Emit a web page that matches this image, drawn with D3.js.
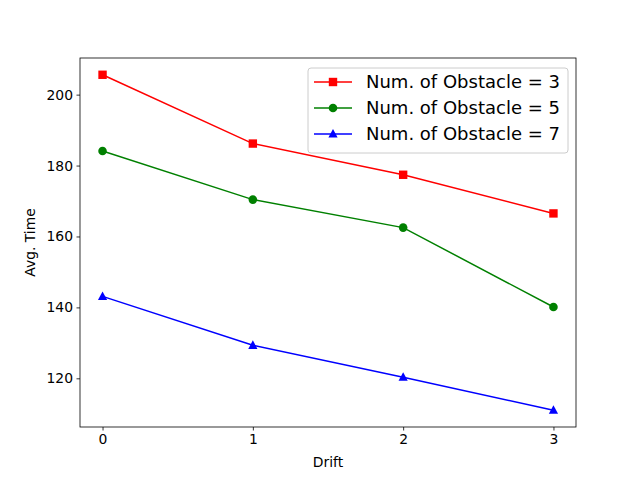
<!DOCTYPE html>
<html>
<head>
<meta charset="utf-8">
<script src="https://cdn.jsdelivr.net/npm/d3@7"></script>
<style>
  body { margin: 0; background: #fff; }
  svg { display: block; font-family: "DejaVu Sans", sans-serif; }
</style>
</head>
<body>
<div id="chart"></div>
<script>
(function() {
    'use strict';

    // Data
    var drift = [0, 1, 2, 3];
    var obstacle3 = [205.6, 186.2, 177.4, 166.5];
    var obstacle5 = [184.1, 170.4, 162.5, 140.1];
    var obstacle7 = [143.1, 129.3, 120.3, 111.0];
    var xTicks = [0, 1, 2, 3];
    var yTicks = [120, 140, 160, 180, 200];

    var series = [
        { label: 'Num. of Obstacle = 3', values: obstacle3, color: '#ff0000', marker: 'square' },
        { label: 'Num. of Obstacle = 5', values: obstacle5, color: '#008000', marker: 'circle' },
        { label: 'Num. of Obstacle = 7', values: obstacle7, color: '#0000ff', marker: 'triangle' }
    ];

    var width = 640, height = 480;
    var margin = { left: 80, right: 64, top: 58, bottom: 53 };
    var innerW = width - margin.left - margin.right;
    var innerH = height - margin.top - margin.bottom;

    var svg = d3.select('#chart').append('svg')
        .attr('width', width)
        .attr('height', height);

    var g = svg.append('g')
        .attr('transform', 'translate(' + margin.left + ',' + margin.top + ')');

    // matplotlib-style 5% padding
    var allY = obstacle3.concat(obstacle5, obstacle7);
    var yMin = d3.min(allY), yMax = d3.max(allY);
    var yPad = (yMax - yMin) * 0.05;
    var x = d3.scaleLinear().domain([-0.15, 3.15]).range([0, innerW]);
    var y = d3.scaleLinear().domain([yMin - yPad, yMax + yPad]).range([innerH, 0]);

    // Axes
    var xAxis = g.append('g')
        .attr('transform', 'translate(0,' + innerH + ')')
        .call(d3.axisBottom(x).tickValues(xTicks).tickFormat(d3.format('d')).tickSize(3.5).tickPadding(3.5));
    var yAxis = g.append('g')
        .call(d3.axisLeft(y).tickValues(yTicks).tickFormat(d3.format('d')).tickSize(3.5).tickPadding(3.5));

    [xAxis, yAxis].forEach(function(a) {
        a.select('.domain').remove();
        a.selectAll('line').attr('stroke', '#000').attr('stroke-width', 0.8);
        a.selectAll('text').attr('fill', '#000').style('font-size', '13.9px')
            .style('font-family', '"DejaVu Sans", sans-serif');
    });

    // Frame
    g.append('rect')
        .attr('width', innerW).attr('height', innerH)
        .attr('fill', 'none').attr('stroke', '#000').attr('stroke-width', 0.8);

    // Axis labels
    svg.append('text')
        .attr('x', margin.left + innerW / 2)
        .attr('y', 467)
        .attr('text-anchor', 'middle')
        .style('font-size', '13.9px')
        .text('Drift');
    svg.append('text')
        .attr('transform', 'translate(35,' + (margin.top + innerH / 2) + ') rotate(-90)')
        .attr('text-anchor', 'middle')
        .style('font-size', '13.9px')
        .text('Avg. Time');

    var line = d3.line()
        .x(function(d, i) { return x(drift[i]); })
        .y(function(d) { return y(d); });

    function drawMarker(sel, s, cx, cy) {
        if (s.marker === 'square') {
            sel.append('rect')
                .attr('x', cx - 4.2).attr('y', cy - 4.2)
                .attr('width', 8.4).attr('height', 8.4)
                .attr('fill', s.color);
        } else if (s.marker === 'circle') {
            sel.append('circle')
                .attr('cx', cx).attr('cy', cy).attr('r', 4.3)
                .attr('fill', s.color);
        } else {
            sel.append('path')
                .attr('d', 'M' + cx + ',' + (cy - 5) + 'L' + (cx + 4.6) + ',' + (cy + 3.6) + 'L' + (cx - 4.6) + ',' + (cy + 3.6) + 'Z')
                .attr('fill', s.color);
        }
    }

    series.forEach(function(s) {
        g.append('path')
            .datum(s.values)
            .attr('d', line)
            .attr('fill', 'none')
            .attr('stroke', s.color)
            .attr('stroke-width', 1.5);
        var mg = g.append('g');
        s.values.forEach(function(v, i) {
            drawMarker(mg, s, x(drift[i]), y(v));
        });
    });

    // Legend
    var lg = svg.append('g').attr('transform', 'translate(308,68)');
    lg.append('rect')
        .attr('width', 260).attr('height', 85)
        .attr('rx', 3)
        .attr('fill', '#fff').attr('fill-opacity', 0.8)
        .attr('stroke', '#ccc').attr('stroke-width', 1);
    series.forEach(function(s, i) {
        var cy = 14 + i * 26;
        var row = lg.append('g');
        row.append('line')
            .attr('x1', 6).attr('x2', 44)
            .attr('y1', cy).attr('y2', cy)
            .attr('stroke', s.color).attr('stroke-width', 1.5);
        drawMarker(row, s, 25, cy);
        row.append('text')
            .attr('x', 58).attr('y', cy)
            .attr('dy', '0.35em')
            .style('font-size', '18px')
            .text(s.label);
    });
})();
</script>
</body>
</html>
